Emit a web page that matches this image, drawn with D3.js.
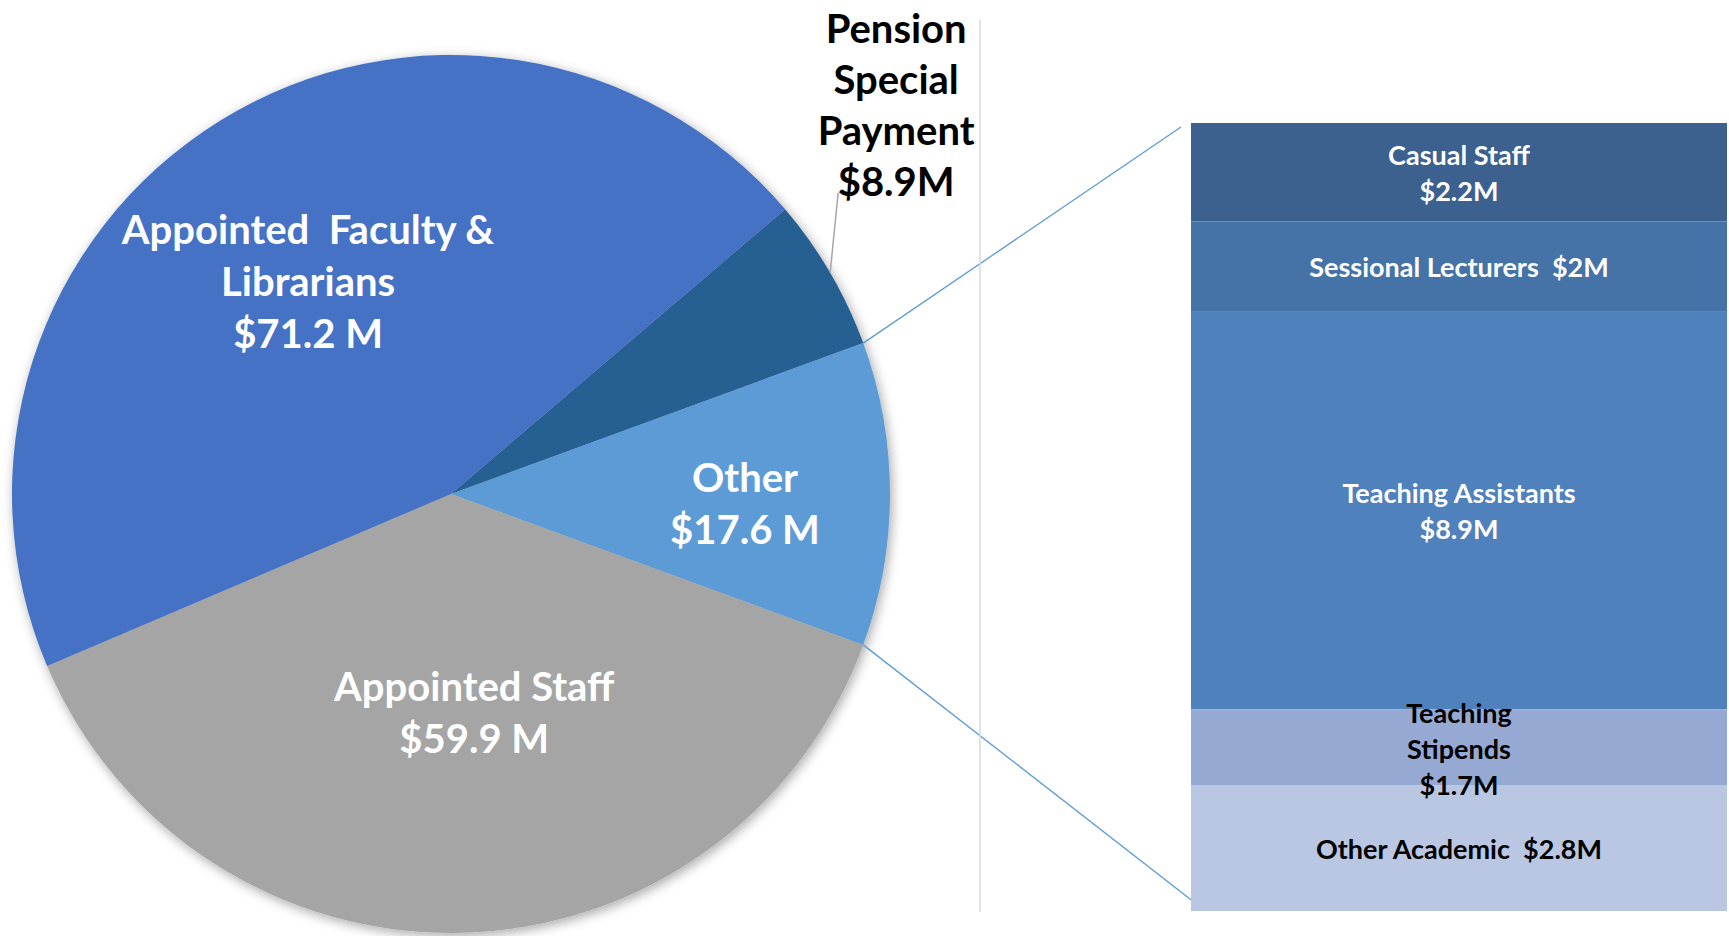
<!DOCTYPE html>
<html lang="en">
<head>
  <meta charset="UTF-8" />
  <title>Salary Breakdown - Bar of Pie</title>
  <script src="https://d3js.org/d3.v7.min.js"></script>
  <style>
    body {
      margin: 0;
      padding: 0;
      background: #fff;
      font-family: Lato, 'Open Sans', sans-serif;
    }
    svg text {
      font-weight: bold;
      text-anchor: middle;
      dominant-baseline: central;
      white-space: pre;
    }
  </style>
</head>
<body>
  <div id="chart"></div>

  <script>
    // Main pie (values in $M)
    const pieNames = ["Pension Special Payment", "Other", "Appointed Staff", "Appointed Faculty & Librarians"];
    const pieValues = [8.9, 17.6, 59.9, 71.2];
    const pieLabels = [
      ["Pension", "Special", "Payment", "$8.9M"],
      ["Other", "$17.6 M"],
      ["Appointed Staff", "$59.9 M"],
      ["Appointed  Faculty &", "Librarians", "$71.2 M"]
    ];
    const pieColors = ["#255E91", "#5B9BD5", "#A5A5A5", "#4472C4"];

    // Breakdown of "Other" (top to bottom)
    const barNames = ["Casual Staff", "Sessional Lecturers", "Teaching Assistants", "Teaching Stipends", "Other Academic"];
    const barValues = [2.2, 2.0, 8.9, 1.7, 2.8];
    const barLabels = [
      ["Casual Staff", "$2.2M"],
      ["Sessional Lecturers  $2M"],
      ["Teaching Assistants", "$8.9M"],
      ["Teaching", "Stipends", "$1.7M"],
      ["Other Academic  $2.8M"]
    ];
    const barColors = ["#3C618F", "#4573A7", "#4F81BD", "#95A9D2", "#B9C7E2"];
    const barTextColors = ["#fff", "#fff", "#fff", "#000", "#000"];

    const width = 1729, height = 936;
    const cx = 451, cy = 494, radius = 439;

    const svg = d3.select("#chart").append("svg")
      .attr("width", width)
      .attr("height", height);

    // soft shadow around the pie
    const defs = svg.append("defs");
    const filter = defs.append("filter").attr("id", "shadow")
      .attr("x", "-10%").attr("y", "-10%").attr("width", "120%").attr("height", "120%");
    filter.append("feDropShadow")
      .attr("dx", 2).attr("dy", 3)
      .attr("stdDeviation", 6)
      .attr("flood-color", "#000")
      .attr("flood-opacity", 0.35);

    // "Other" slice is centred on the right (3 o'clock), like Excel's bar-of-pie
    const total = d3.sum(pieValues);
    const startAngle = Math.PI / 2 - 2 * Math.PI * (pieValues[0] + pieValues[1] / 2) / total;

    const pie = d3.pie()
      .sort(null)
      .startAngle(startAngle)
      .endAngle(startAngle + 2 * Math.PI);
    const arcs = pie(pieValues);

    const arc = d3.arc().innerRadius(0).outerRadius(radius);

    const pieG = svg.append("g").attr("transform", `translate(${cx},${cy})`);
    pieG.append("g").attr("filter", "url(#shadow)")
      .selectAll("path")
      .data(arcs)
      .enter()
      .append("path")
      .attr("d", arc)
      .attr("fill", (d, i) => pieColors[i]);

    // point on the rim at a given d3 angle
    const rim = (a, r) => [Math.sin(a) * r, -Math.cos(a) * r];

    // stacked bar for the breakdown
    const barX0 = 1191, barX1 = 1727, barY0 = 123, barY1 = 911;
    const y = d3.scaleLinear().domain([0, d3.sum(barValues)]).range([barY0, barY1]);
    const cum = d3.cumsum(barValues);
    const segs = barValues.map((v, i) => ({ v, i, y0: cum[i] - v, y1: cum[i] }));

    // connector lines from the Other slice to the bar
    const otherArc = arcs[1];
    const pTop = rim(otherArc.startAngle, radius);
    const pBot = rim(otherArc.endAngle, radius);
    svg.append("line")
      .attr("x1", cx + pTop[0]).attr("y1", cy + pTop[1])
      .attr("x2", barX0 - 10).attr("y2", y(0) + 4)
      .attr("stroke", "#5B9BD5").attr("stroke-width", 1.3);
    svg.append("line")
      .attr("x1", cx + pBot[0]).attr("y1", cy + pBot[1])
      .attr("x2", barX0 + 8).attr("y2", y(d3.sum(barValues)) - 5)
      .attr("stroke", "#5B9BD5").attr("stroke-width", 1.3);

    // thin divider
    svg.append("line")
      .attr("x1", 980).attr("x2", 980)
      .attr("y1", 20).attr("y2", 912)
      .attr("stroke", "#d9d9d9").attr("stroke-width", 1.5);

    const barG = svg.append("g");
    barG.selectAll("rect")
      .data(segs)
      .enter()
      .append("rect")
      .attr("x", barX0)
      .attr("width", barX1 - barX0)
      .attr("y", d => y(d.y0))
      .attr("height", d => y(d.y1) - y(d.y0))
      .attr("fill", d => barColors[d.i]);

    const barLine = 36;
    barG.selectAll("text")
      .data(segs)
      .enter()
      .append("text")
      .attr("fill", d => barTextColors[d.i])
      .style("font-size", "27px")
      .each(function(d) {
        const lines = barLabels[d.i];
        const mid = (y(d.y0) + y(d.y1)) / 2;
        const t = d3.select(this);
        lines.forEach((s, k) => {
          t.append("tspan")
            .attr("x", (barX0 + barX1) / 2)
            .attr("y", mid + (k - (lines.length - 1) / 2) * barLine)
            .text(s);
        });
      });

    // pie labels: radius factor / angle nudge for the inside ones
    const labelPos = [null, { r: 0.67, da: 0.03 }, { r: 0.5, da: -0.08 }, { r: 0.585, da: -0.036 }];
    const pieLine = 52;
    arcs.forEach((d, i) => {
      const lines = pieLabels[i];
      const mid = (d.startAngle + d.endAngle) / 2;
      const t = svg.append("text").style("font-size", "40px");
      let px, py;
      if (labelPos[i]) {
        const p = rim(mid + labelPos[i].da, radius * labelPos[i].r);
        px = cx + p[0]; py = cy + p[1];
        t.attr("fill", "#fff");
        lines.forEach((s, k) => {
          t.append("tspan").attr("x", px)
            .attr("y", py + (k - (lines.length - 1) / 2) * pieLine)
            .text(s);
        });
      } else {
        // outside label with a leader line
        const p = rim(mid, radius);
        const x1 = cx + p[0], y1 = cy + p[1];
        const x2 = x1 + 8, y2 = y1 - 80;
        svg.append("line")
          .attr("x1", x1).attr("y1", y1)
          .attr("x2", x2).attr("y2", y2)
          .attr("stroke", "#a6a6a6").attr("stroke-width", 1.5);
        t.attr("fill", "#000");
        const lastY = y2 - 12;
        lines.forEach((s, k) => {
          t.append("tspan").attr("x", x2 + 58)
            .attr("y", lastY - (lines.length - 1 - k) * (pieLine - 1))
            .text(s);
        });
      }
    });
  </script>
</body>
</html>
